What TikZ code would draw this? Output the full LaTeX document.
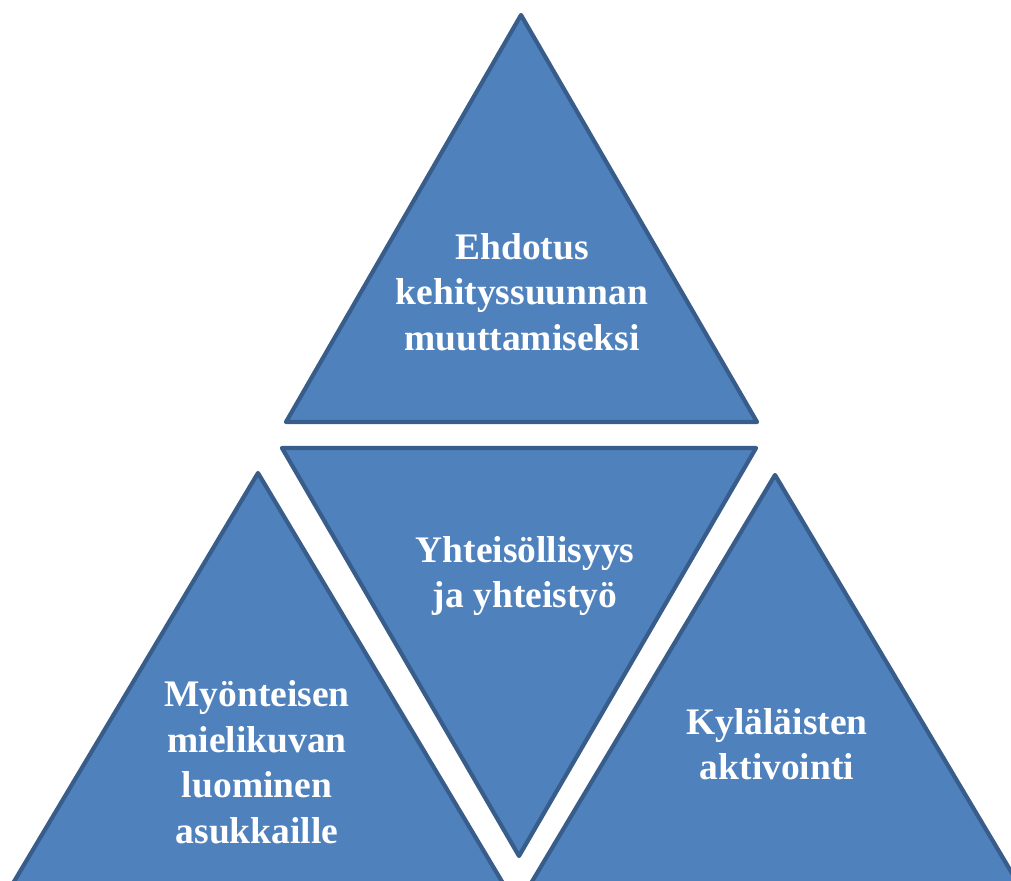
\documentclass[tikz,border=0pt]{standalone}
\usepackage{fontspec}
\setmainfont{Liberation Serif}
\definecolor{tfill}{HTML}{4F81BD}
\definecolor{tline}{HTML}{385D8A}
\begin{document}
\begin{tikzpicture}[x=1pt,y=-1pt,
  tri/.style={fill=tfill,draw=tline,line width=4.2pt,line join=round},
  lbl/.style={text=white,font=\bfseries\fontsize{37.5}{45.5}\selectfont,align=center,inner sep=0pt}]
\useasboundingbox (0,0) rectangle (1011,880);
\begin{scope}
\clip (0,0) rectangle (1011,880);
\draw[tri] (521,15) -- (757,422) -- (286,422) -- cycle;
\draw[tri] (282,448) -- (756,448) -- (519,856) -- cycle;
\draw[tri] (258,473) -- (510,895) -- (6,895) -- cycle;
\draw[tri] (775,475) -- (1025,895) -- (524,895) -- cycle;
\end{scope}
\node[lbl] (top) at (522,292) {Ehdotus\\kehityssuunnan\\muuttamiseksi};
\node[lbl] (mid) at (525,576) {Yhteisöllisyys\\ja yhteistyö};
\node[lbl] (left) at (257,762) {Myönteisen\\mielikuvan\\luominen\\asukkaille};
\node[lbl] (right) at (777,744) {Kyläläisten\\aktivointi};
\end{tikzpicture}
\end{document}
